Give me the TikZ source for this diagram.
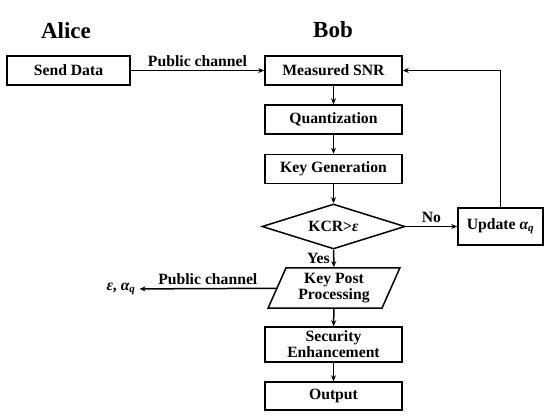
\documentclass[tikz,border=0pt]{standalone}
\usepackage{fontspec}
\setmainfont{Liberation Serif}
\usetikzlibrary{shapes.geometric,arrows.meta}

\begin{document}
\begin{tikzpicture}[x=1pt,y=-1pt,line width=1.5pt,
    every node/.style={font=\bfseries\fontsize{15.7}{16}\selectfont},
    title/.style={font=\bfseries\fontsize{23}{26}\selectfont},
    box/.style={draw,minimum width=137pt,minimum height=29pt,inner sep=0pt,align=center},
    test/.style={draw,diamond,aspect=3.2,minimum width=143pt,minimum height=45pt,inner sep=0pt},
    io/.style={draw,trapezium,trapezium left angle=66,trapezium right angle=114,
      minimum width=132pt,minimum height=34pt,inner sep=0pt,align=center},
    >={Stealth[length=6pt,width=5pt]}]
  \useasboundingbox (0,0) rectangle (550,417);
  \node [title] (alice) at (66,31) {Alice};
  \node [title] (bob) at (333,30) {Bob};
  \node [box,minimum width=123pt] (send) at (68.5,70.5) {Send Data};
  \node [box] (snr) at (333.5,70.5) {Measured SNR};
  \node [box] (quant) at (333.5,119.5) {Quantization};
  \node [box] (keygen) at (333.5,169) {Key Generation};
  \node [test] (kcr) at (333.5,226.5) {KCR>{\itshape ε}};
  \node [box,minimum width=85pt,minimum height=37pt] (update) at (500.5,226.5) {Update {\itshape α\textsubscript{q}}};
  \node [io] (kpp) at (334,288) {Key Post\\Processing};
  \node [box,minimum height=35pt] (sec) at (333.5,344.5) {Security\\Enhancement};
  \node [box,minimum height=28pt] (out) at (333.5,396) {Output};
  \node (params) at (121,289) {{\itshape ε}, {\itshape α\textsubscript{q}}};
  % public channel from Alice to Bob
  \draw [->] (send) -- node [above] {Public channel} (snr);
  \draw [->] (snr) -- (quant);
  \draw [->] (quant) -- (keygen);
  \draw [->] (keygen) -- (kcr);
  \draw [->] (kcr) -- node [above] {No} (update);
  \draw [->] (update) |- (snr);
  \draw [->] (kcr) -- node [left] {Yes} (kpp);
  \draw [->] (kpp) -- node [above] {Public channel} (params);
  \draw [->] (kpp) -- (sec);
  \draw [->] (sec) -- (out);
\end{tikzpicture}
\end{document}
